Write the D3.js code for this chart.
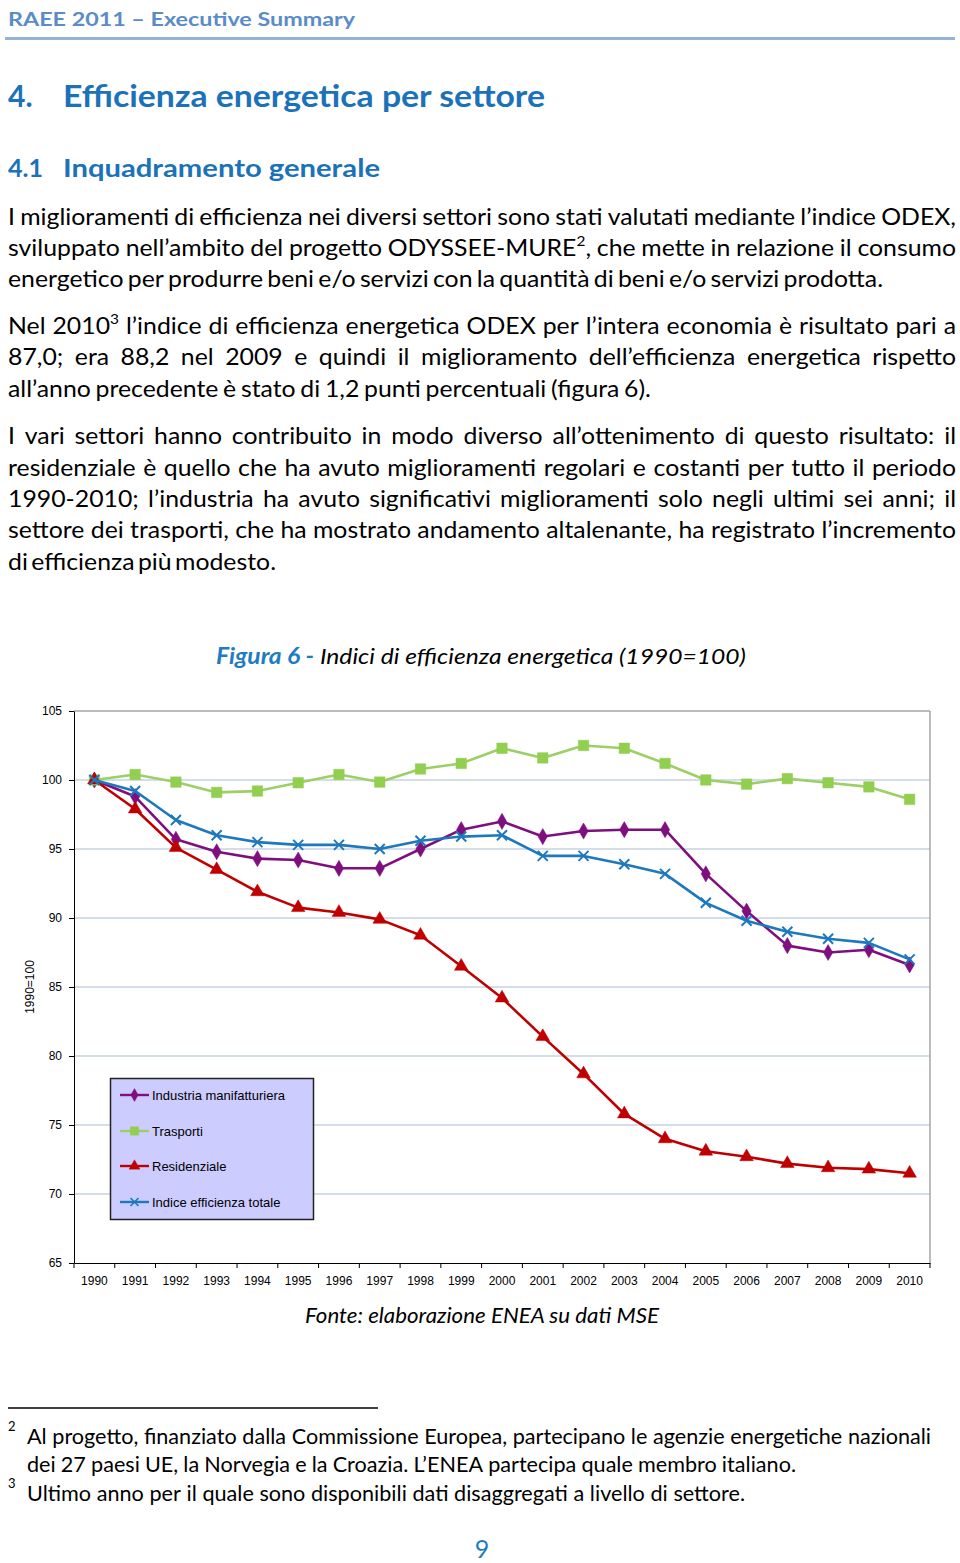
<!DOCTYPE html>
<html><head><meta charset="utf-8">
<script src="https://cdn.jsdelivr.net/npm/d3@7"></script>
<style>body{margin:0;background:#fff}svg{display:block}</style>
</head><body>
<script>
// ---------- DATA ----------
const years = ["1990","1991","1992","1993","1994","1995","1996","1997","1998","1999","2000","2001","2002","2003","2004","2005","2006","2007","2008","2009","2010"];
const industria = [100, 98.8, 95.7, 94.8, 94.3, 94.2, 93.6, 93.6, 95.0, 96.4, 97.0, 95.9, 96.3, 96.4, 96.4, 93.2, 90.5, 88.0, 87.5, 87.7, 86.6];
const trasporti = [100, 100.4, 99.85, 99.1, 99.2, 99.8, 100.4, 99.85, 100.8, 101.2, 102.3, 101.6, 102.5, 102.3, 101.2, 100.0, 99.7, 100.1, 99.8, 99.5, 98.6];
const residenziale = [100, 97.9, 95.1, 93.5, 91.9, 90.75, 90.4, 89.9, 88.75, 86.5, 84.2, 81.4, 78.7, 75.8, 74.0, 73.1, 72.7, 72.2, 71.9, 71.8, 71.5];
const totale = [100, 99.2, 97.1, 96.0, 95.5, 95.3, 95.3, 95.0, 95.6, 95.9, 96.0, 94.5, 94.5, 93.9, 93.2, 91.1, 89.8, 89.0, 88.5, 88.2, 87.0];
const seriesNames = ["Industria manifatturiera", "Trasporti", "Residenziale", "Indice efficienza totale"];
const yTicks = [65, 70, 75, 80, 85, 90, 95, 100, 105];
const yLabel = "1990=100";

const chartTitleBold = "Figura 6 -";
const chartTitleRest = " Indici di efficienza energetica (1990=100)";
const sourceText = "Fonte: elaborazione ENEA su dati MSE";

const para1 = [
  "I miglioramenti di efficienza nei diversi settori sono stati valutati mediante l’indice ODEX,",
  "sviluppato nell’ambito del progetto ODYSSEE-MURE{2}, che mette in relazione il consumo",
  "energetico per produrre beni e/o servizi con la quantità di beni e/o servizi prodotta."
];
const para2 = [
  "Nel 2010{3} l’indice di efficienza energetica ODEX per l’intera economia è risultato pari a",
  "87,0; era 88,2 nel 2009 e quindi il miglioramento dell’efficienza energetica rispetto",
  "all’anno precedente è stato di 1,2 punti percentuali (figura 6)."
];
const para3 = [
  "I vari settori hanno contribuito in modo diverso all’ottenimento di questo risultato: il",
  "residenziale è quello che ha avuto miglioramenti regolari e costanti per tutto il periodo",
  "1990-2010; l’industria ha avuto significativi miglioramenti solo negli ultimi sei anni; il",
  "settore dei trasporti, che ha mostrato andamento altalenante, ha registrato l’incremento",
  "di efficienza più modesto."
];
const footnotes = [
  "Al progetto, finanziato dalla Commissione Europea, partecipano le agenzie energetiche nazionali",
  "dei 27 paesi UE, la Norvegia e la Croazia. L’ENEA partecipa quale membro italiano.",
  "Ultimo anno per il quale sono disponibili dati disaggregati a livello di settore."
];

// ---------- SVG ----------
const W = 960, H = 1563;
const svg = d3.select("body").append("svg").attr("width", W).attr("height", H);
const BODY = "Lato, 'Open Sans', sans-serif";
const ARIAL = "'Liberation Sans', Arial, sans-serif";
const BLUE = "#1b72b8";

// header
svg.append("text").attr("x", 8).attr("y", 26).text("RAEE 2011 – Executive Summary")
  .attr("font-family", BODY).attr("font-weight", 700).attr("font-size", 18)
  .attr("fill", "#5a8cc8").attr("textLength", 347).attr("lengthAdjust", "spacingAndGlyphs");
svg.append("line").attr("x1", 5).attr("x2", 955).attr("y1", 38.5).attr("y2", 38.5)
  .attr("stroke", "#95b3d7").attr("stroke-width", 3);

function heading(num, txt, y, size, xEnd) {
  svg.append("text").attr("x", 8).attr("y", y).text(num)
    .attr("font-family", BODY).attr("font-weight", 700).attr("font-size", size).attr("fill", BLUE);
  svg.append("text").attr("x", 63).attr("y", y).text(txt)
    .attr("font-family", BODY).attr("font-weight", 700).attr("font-size", size).attr("fill", BLUE)
    .attr("textLength", xEnd - 63).attr("lengthAdjust", "spacingAndGlyphs");
}
heading("4.", "Efficienza energetica per settore", 107, 30, 545);
heading("4.1", "Inquadramento generale", 177, 25, 380);

// ---------- justified text ----------
function addParts(t, word, size) {
  const parts = word.split(/(\{[^}]*\})/).filter(s => s.length);
  let shifted = false;
  parts.forEach(p => {
    if (p[0] === "{") {
      t.append("tspan").text(p.slice(1, -1)).attr("font-size", size * 0.62).attr("dy", -size * 0.42);
      shifted = true;
    } else {
      const ts = t.append("tspan").text(p);
      if (shifted) { ts.attr("dy", size * 0.42); shifted = false; }
    }
  });
}
function textBlock(lines, x0, ends, ys, size, sx, justifyFlags) {
  lines.forEach((str, i) => {
    const g = svg.append("g").attr("transform", `translate(${x0},${ys[i]}) scale(${sx},1)`);
    const words = str.split(" ");
    const nodes = words.map(w => {
      const t = g.append("text").attr("y", 0).attr("font-family", BODY).attr("font-size", size).attr("fill", "#000");
      addParts(t, w, size);
      return t;
    });
    const widths = nodes.map(n => n.node().getComputedTextLength());
    const sum = d3.sum(widths);
    const avail = (ends[i] - x0) / sx;
    let gap;
    if (justifyFlags[i]) gap = (avail - sum) / (words.length - 1);
    else gap = Math.min(size * 0.26, (avail - sum) / (words.length - 1));
    let x = 0;
    nodes.forEach((n, k) => { n.attr("x", x); x += widths[k] + gap; });
  });
}
function naturalScale(lines, ends, x0, size) {
  const tmp = svg.append("g");
  const ratios = lines.map((s, i) => {
    const t = tmp.append("text").attr("font-family", BODY).attr("font-size", size).text(s.replace(/\{[^}]*\}/g, "x"));
    return (ends[i] - x0) / t.node().getComputedTextLength();
  });
  tmp.remove();
  return d3.median(ratios);
}
const BS = 23;
const allBody = para1.concat(para2, para3);
const allEnds = [956, 956, 883, 956, 956, 651, 956, 956, 956, 956, 276];
const sxBody = Math.max(0.8, Math.min(1.12, naturalScale(allBody, allEnds, 8, BS)));
textBlock(para1, 8, [956, 956, 883], [225, 256, 287], BS, sxBody, [1, 1, 0]);
textBlock(para2, 8, [956, 956, 651], [334, 365, 397], BS, sxBody, [1, 1, 0]);
textBlock(para3, 8, [956, 956, 956, 956, 276], [444, 476, 507, 538, 570], BS, sxBody, [1, 1, 1, 1, 0]);

// ---------- chart title ----------
const ct = svg.append("text").attr("x", 216).attr("y", 664).attr("font-family", BODY)
  .attr("font-size", 22).attr("font-style", "italic")
  .attr("textLength", 530).attr("lengthAdjust", "spacingAndGlyphs");
ct.append("tspan").text(chartTitleBold).attr("font-weight", 700).attr("fill", "#1f7cc1");
ct.append("tspan").text(chartTitleRest).attr("fill", "#000");

// ---------- chart ----------
const plot = { l: 74, r: 930, t: 711, b: 1263 };
const x = d3.scaleBand().domain(years).range([plot.l, plot.r]).padding(0);
const cx = d => x(d) + x.bandwidth() / 2;
const y = d3.scaleLinear().domain([65, 105]).range([plot.b, plot.t]);

// gridlines
svg.append("g").selectAll("line").data(yTicks.filter(v => v > 65)).join("line")
  .attr("x1", plot.l).attr("x2", plot.r).attr("y1", d => y(d)).attr("y2", d => y(d))
  .attr("stroke", d => d === 105 ? "#a6a6a6" : "#a9bdd3").attr("stroke-width", d => d === 105 ? 1.5 : 1.2);
svg.append("line").attr("x1", plot.r).attr("x2", plot.r).attr("y1", plot.t).attr("y2", plot.b)
  .attr("stroke", "#a6a6a6").attr("stroke-width", 1.5);

// y axis
const yAx = svg.append("g").attr("transform", `translate(${plot.l},0)`)
  .call(d3.axisLeft(y).tickValues(yTicks).tickSize(5).tickSizeOuter(0).tickPadding(7));
yAx.selectAll("text").attr("font-family", ARIAL).attr("font-size", 12).attr("fill", "#000");
yAx.selectAll("line,path").attr("stroke", "#000");
svg.append("text").attr("transform", `translate(34,${y(85)}) rotate(-90)`).attr("text-anchor", "middle")
  .attr("font-family", ARIAL).attr("font-size", 12).text(yLabel);

// x axis
const xAx = svg.append("g").attr("transform", `translate(0,${plot.b})`)
  .call(d3.axisBottom(x).tickSize(0).tickSizeOuter(0).tickPadding(13));
xAx.selectAll("text").attr("font-family", ARIAL).attr("font-size", 12).attr("fill", "#000");
xAx.select("path").attr("stroke", "#000");
const bounds = years.map(d => x(d)).concat([x(years[years.length - 1]) + x.bandwidth()]);
svg.append("g").selectAll("line").data(bounds).join("line")
  .attr("x1", d => d).attr("x2", d => d).attr("y1", plot.b).attr("y2", plot.b + 5).attr("stroke", "#000");

// series
const xMark = s => `M${-s},${-s}L${s},${s}M${-s},${s}L${s},${-s}`;
const series = [
  { name: seriesNames[0], vals: industria, color: "#7f0f7e", sym: d3.symbol(d3.symbolDiamond, 75)() , fill: true },
  { name: seriesNames[1], vals: trasporti, color: "#92cf50", sym: d3.symbol(d3.symbolSquare, 110)(), fill: true, line: "#9ccf66" },
  { name: seriesNames[2], vals: residenziale, color: "#c00000", sym: d3.symbol(d3.symbolTriangle, 80)(), fill: true },
  { name: seriesNames[3], vals: totale, color: "#1d78be", sym: xMark(5), fill: false }
];
const line = d3.line().x((d, i) => cx(years[i])).y(d => y(d));
series.forEach(s => {
  svg.append("path").datum(s.vals).attr("d", line).attr("fill", "none")
    .attr("stroke", s.line || s.color).attr("stroke-width", 2.6).attr("stroke-linejoin", "round");
  svg.append("g").selectAll("path").data(s.vals).join("path")
    .attr("transform", (d, i) => `translate(${cx(years[i])},${y(d)})`)
    .attr("d", s.sym)
    .attr("fill", s.fill ? s.color : "none")
    .attr("stroke", s.color).attr("stroke-width", s.fill ? 0.5 : 2);
});

// legend
const lg = svg.append("g");
lg.append("rect").attr("x", 110.5).attr("y", 1078.5).attr("width", 203).attr("height", 141)
  .attr("fill", "#ccccff").attr("stroke", "#222").attr("stroke-width", 1.5);
const legY = [1095, 1131, 1166, 1202];
series.forEach((s, i) => {
  lg.append("line").attr("x1", 120).attr("x2", 149).attr("y1", legY[i]).attr("y2", legY[i])
    .attr("stroke", s.line || s.color).attr("stroke-width", 2.4);
  lg.append("path").attr("transform", `translate(134.5,${legY[i]}) scale(0.8)`).attr("d", s.sym)
    .attr("fill", s.fill ? s.color : "none").attr("stroke", s.color).attr("stroke-width", s.fill ? 0.5 : 2);
  lg.append("text").attr("x", 152).attr("y", legY[i] + 4.5).attr("font-family", ARIAL)
    .attr("font-size", 13).attr("fill", "#000").text(s.name);
});

// source
svg.append("text").attr("x", 305).attr("y", 1323).attr("font-family", BODY).attr("font-size", 21)
  .attr("font-style", "italic").attr("textLength", 354).attr("lengthAdjust", "spacingAndGlyphs").text(sourceText);

// footnotes
svg.append("line").attr("x1", 8).attr("x2", 378).attr("y1", 1408).attr("y2", 1408).attr("stroke", "#000").attr("stroke-width", 1.5);
svg.append("text").attr("x", 8).attr("y", 1431).attr("font-family", BODY).attr("font-size", 13).text("2");
svg.append("text").attr("x", 8).attr("y", 1488).attr("font-family", BODY).attr("font-size", 13).text("3");
const FS = 21;
const fEnds = [931, 796, 745];
const sxF = Math.max(0.8, Math.min(1.12, naturalScale(footnotes, fEnds, 27, FS)));
textBlock(footnotes, 27, fEnds, [1444, 1472, 1501], FS, sxF, [1, 1, 1]);

// page number
svg.append("text").attr("x", 482).attr("y", 1558).attr("text-anchor", "middle").attr("font-family", BODY)
  .attr("font-size", 25).attr("fill", "#1f7cc1").text("9");
</script>
</body></html>
